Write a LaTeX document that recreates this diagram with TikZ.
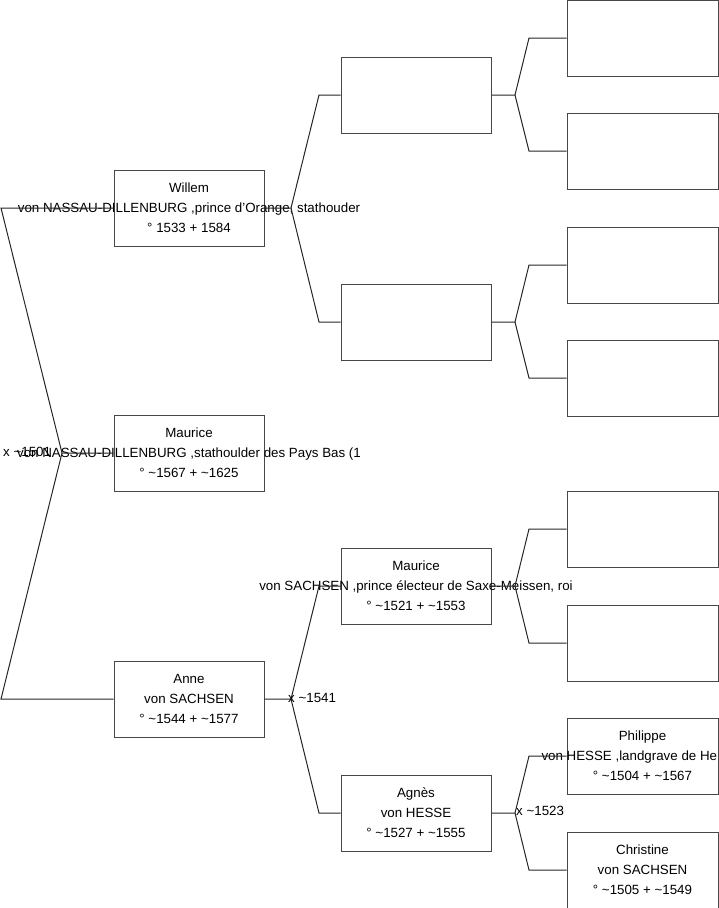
\documentclass[tikz,border=0pt]{standalone}
\usepackage{fontspec}
\setmainfont{Liberation Sans}
\begin{document}
\begin{tikzpicture}[x=1pt,y=-1pt,
  person/.style={draw=black!72,line width=1pt,fill=white,minimum width=150pt,minimum height=76pt,inner sep=0pt},
  wide/.style={person,minimum width=151pt},
  ptext/.style={inner sep=0pt,align=center,font=\fontsize{13.33}{20}\selectfont},
  link/.style={draw=black!85,line width=1pt},
  mlabel/.style={anchor=west,inner sep=0pt,font=\fontsize{13.33}{16}\selectfont}]
\useasboundingbox (0,0) rectangle (719,908);
\clip (0,0) rectangle (719,908);
% column 1
\node[person,label={[ptext]center:{Willem\\von NASSAU-DILLENBURG ,prince d'Orange, stathouder\\° 1533 + 1584}}] (w) at (189,208) {};
\node[person,label={[ptext]center:{Maurice\\von NASSAU-DILLENBURG ,stathoulder des Pays Bas (1\\° \textasciitilde1567 + \textasciitilde1625}}] (m) at (189,453) {};
\node[person,label={[ptext]center:{Anne\\von SACHSEN\\° \textasciitilde1544 + \textasciitilde1577}}] (a) at (189,699) {};
% column 2
\node[person] (f1) at (416,95) {};
\node[person] (f2) at (416,322) {};
\node[person,label={[ptext]center:{Maurice\\von SACHSEN ,prince électeur de Saxe-Meissen, roi\\° \textasciitilde1521 + \textasciitilde1553}}] (ms) at (416,586) {};
\node[person,label={[ptext]center:{Agnès\\von HESSE\\° \textasciitilde1527 + \textasciitilde1555}}] (ag) at (416,813) {};
% column 3
\node[wide] (g1) at (642.5,38) {};
\node[wide] (g2) at (642.5,151) {};
\node[wide] (g3) at (642.5,265) {};
\node[wide] (g4) at (642.5,378) {};
\node[wide] (g5) at (642.5,529) {};
\node[wide] (g6) at (642.5,643) {};
\node[wide,label={[ptext]center:{Philippe\\\makebox[202pt][l]{von HESSE ,landgrave de He}\\° \textasciitilde1504 + \textasciitilde1567}}] (ph) at (642.5,756) {};
\node[wide,label={[ptext]center:{Christine\\von SACHSEN\\° \textasciitilde1505 + \textasciitilde1549}}] (ch) at (642.5,870) {};
% fork coordinates
\coordinate (v0) at (62,453);
\coordinate (e0a) at (1,208);
\coordinate (e0b) at (1,699);
\coordinate (vw) at (291,208);
\coordinate (ew1) at (319,95);
\coordinate (ew2) at (319,322);
\coordinate (va) at (291,699);
\coordinate (ea1) at (319,586);
\coordinate (ea2) at (319,813);
\coordinate (vf1) at (515,95);
\coordinate (ef11) at (529,38);
\coordinate (ef12) at (529,151);
\coordinate (vf2) at (515,322);
\coordinate (ef21) at (529,265);
\coordinate (ef22) at (529,378);
\coordinate (vms) at (515,586);
\coordinate (ems1) at (529,529);
\coordinate (ems2) at (529,643);
\coordinate (vag) at (515,813);
\coordinate (eag1) at (529,756);
\coordinate (eag2) at (529,870);
% connectors
\draw[link] (m.west) -- (v0) -- (e0a) -- (w.west);
\draw[link] (v0) -- (e0b) -- (a.west);
\draw[link] (w.east) -- (vw) -- (ew1) -- (f1.west);
\draw[link] (vw) -- (ew2) -- (f2.west);
\draw[link] (a.east) -- (va) -- (ea1) -- (ms.west);
\draw[link] (va) -- (ea2) -- (ag.west);
\draw[link] (f1.east) -- (vf1) -- (ef11) -- (g1.west);
\draw[link] (vf1) -- (ef12) -- (g2.west);
\draw[link] (f2.east) -- (vf2) -- (ef21) -- (g3.west);
\draw[link] (vf2) -- (ef22) -- (g4.west);
\draw[link] (ms.east) -- (vms) -- (ems1) -- (g5.west);
\draw[link] (vms) -- (ems2) -- (g6.west);
\draw[link] (ag.east) -- (vag) -- (eag1) -- (ph.west);
\draw[link] (vag) -- (eag2) -- (ch.west);
% marriage labels
\node[mlabel] (l0) at (3,452) {x \textasciitilde1501};
\node[mlabel] (l1) at (288,698) {x \textasciitilde1541};
\node[mlabel] (l2) at (516,811) {x \textasciitilde1523};
\end{tikzpicture}
\end{document}
